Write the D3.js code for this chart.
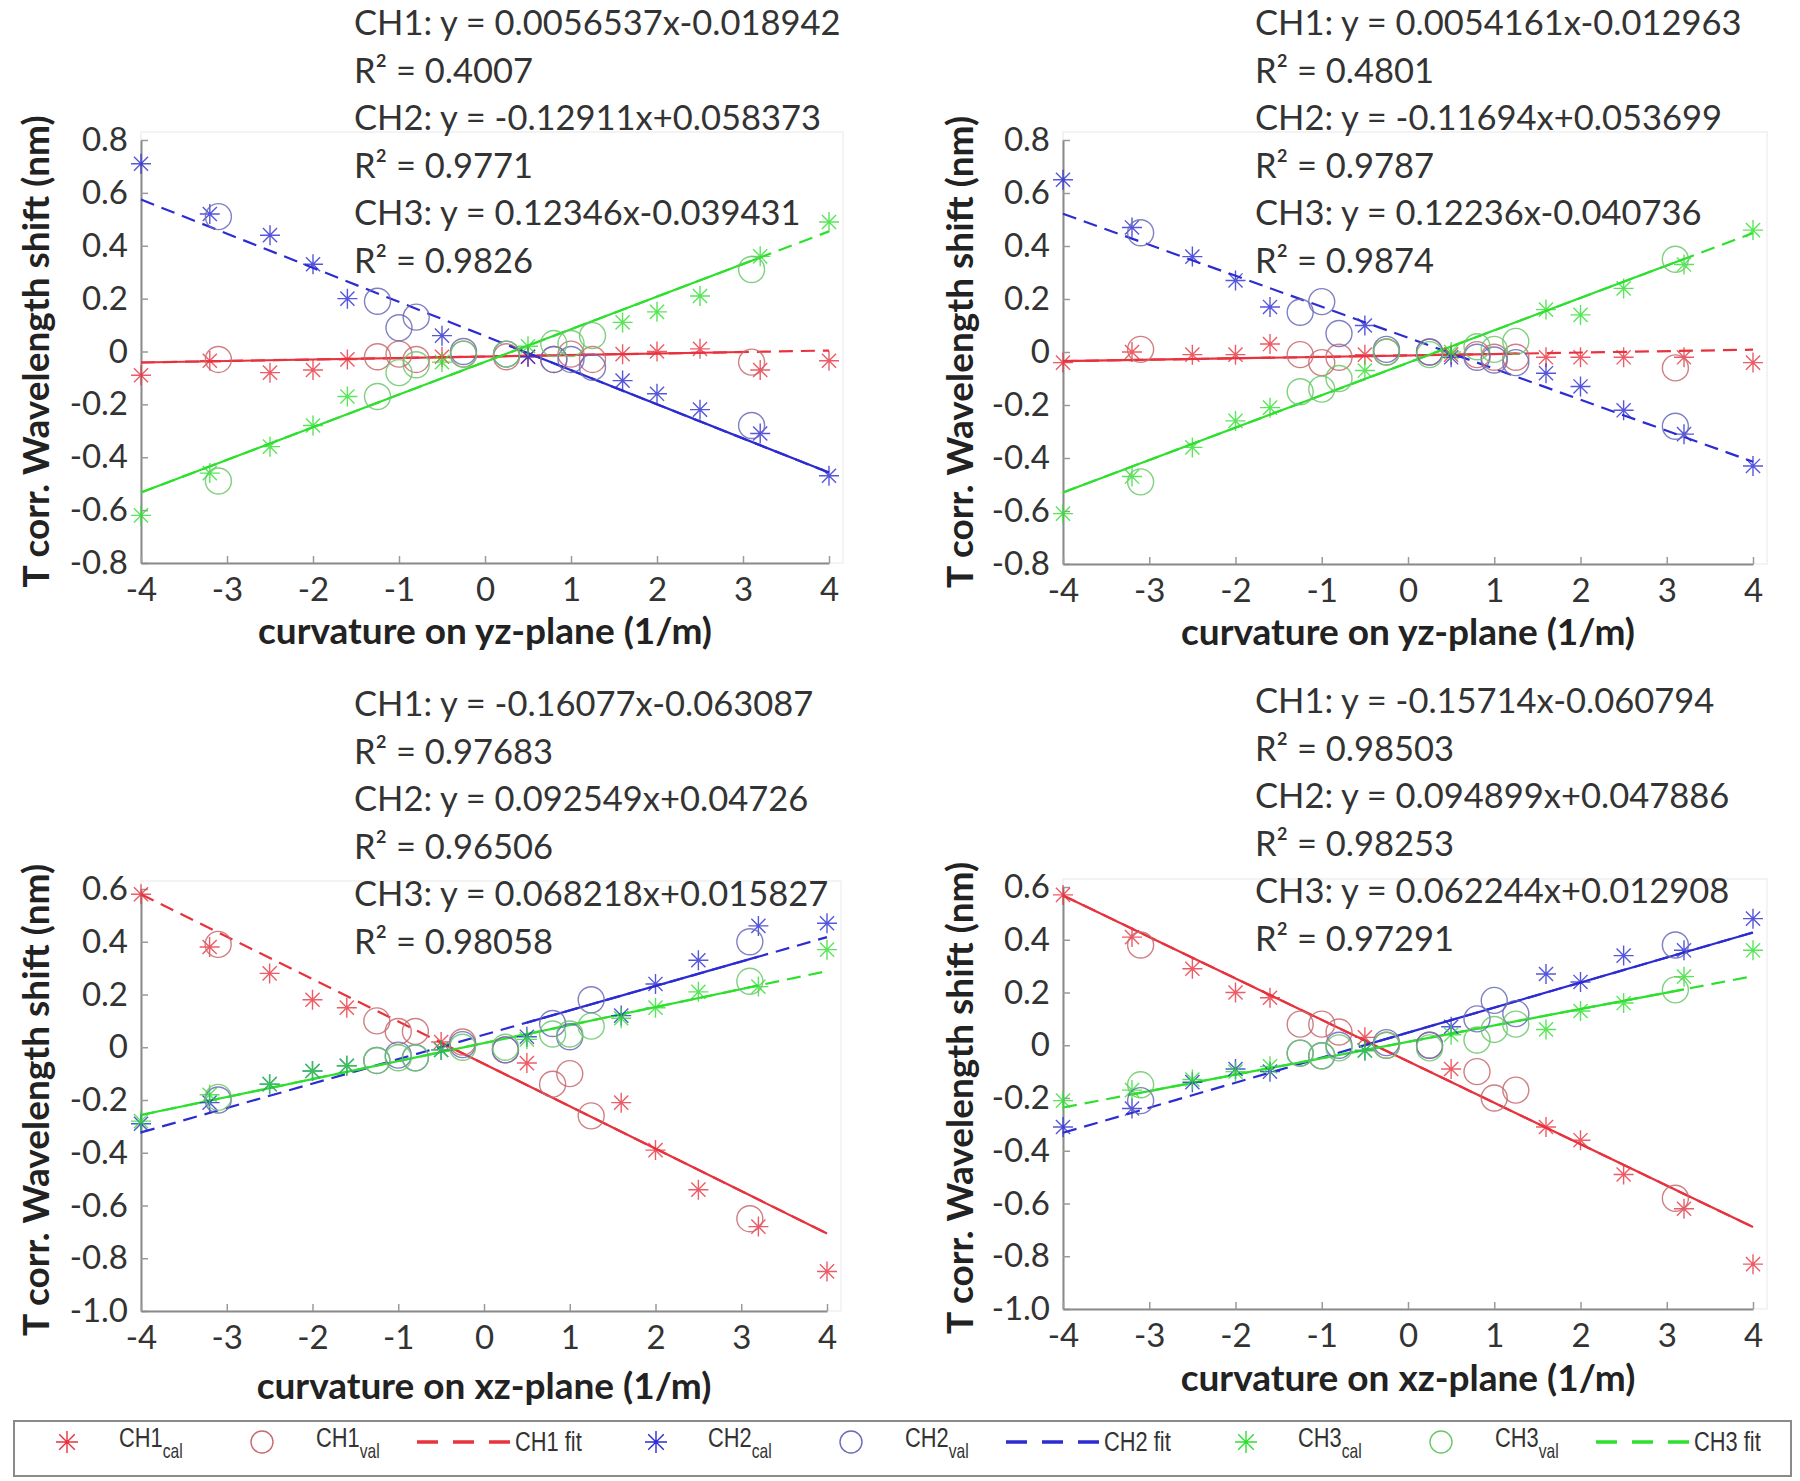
<!DOCTYPE html>
<html><head><meta charset="utf-8">
<script src="https://cdn.jsdelivr.net/npm/d3@7"></script>
<style>body{margin:0;background:#fff}</style>
</head><body>
<svg id="chart" width="1800" height="1481" xmlns="http://www.w3.org/2000/svg"></svg>
<script>
// ---------- shared data ----------
const xTicks = [-4, -3, -2, -1, 0, 1, 2, 3, 4];
const yTicksTop = [0.8, 0.6, 0.4, 0.2, 0, -0.2, -0.4, -0.6, -0.8];
const yTicksBottom = [0.6, 0.4, 0.2, 0, -0.2, -0.4, -0.6, -0.8, -1.0];
const calX = [-4, -3.2, -2.5, -2, -1.6, -0.5, 0.5, 1.6, 2, 2.5, 3.2, 4];
const valX = [-3.1, -1.25, -1.0, -0.8, -0.25, 0.25, 0.8, 1.0, 1.25, 3.1];
const channels = ["CH1", "CH2", "CH3"];
const xTitleYZ = "curvature on yz-plane (1/m)";
const xTitleXZ = "curvature on xz-plane (1/m)";
const yTitle = "T corr. Wavelength shift (nm)";

// ---------- panel A: top-left (yz) ----------
const A_cal1 = [-0.09, -0.035, -0.08, -0.07, -0.03, -0.02, -0.02, -0.01, 0.0, 0.01, -0.07, -0.035];
const A_cal2 = [0.71, 0.52, 0.44, 0.33, 0.20, 0.06, -0.02, -0.11, -0.16, -0.22, -0.31, -0.47];
const A_cal3 = [-0.62, -0.46, -0.36, -0.28, -0.17, -0.04, 0.02, 0.11, 0.15, 0.21, 0.36, 0.49];
const A_val1 = [-0.03, -0.02, -0.01, -0.03, -0.01, -0.02, -0.03, -0.01, -0.03, -0.04];
const A_val2 = [0.51, 0.19, 0.09, 0.13, 0.0, -0.01, -0.03, -0.03, -0.06, -0.28];
const A_val3 = [-0.49, -0.17, -0.08, -0.05, -0.01, -0.01, 0.03, 0.03, 0.06, 0.31];
const A_slope = [0.0056537, -0.12911, 0.12346];
const A_icpt = [-0.018942, 0.058373, -0.039431];
const A_solid = [[-4, 3.0], [0.3, 4], [-4, 3.2]];
const A_text = ["CH1: y = 0.0056537x-0.018942", "R² = 0.4007", "CH2: y = -0.12911x+0.058373", "R² = 0.9771", "CH3: y = 0.12346x-0.039431", "R² = 0.9826"];

// ---------- panel B: top-right (yz) ----------
const B_cal1 = [-0.04, 0.0, -0.01, -0.01, 0.03, -0.01, -0.01, -0.02, -0.02, -0.02, -0.02, -0.04];
const B_cal2 = [0.65, 0.47, 0.36, 0.27, 0.17, 0.10, -0.02, -0.08, -0.13, -0.22, -0.31, -0.43];
const B_cal3 = [-0.61, -0.47, -0.36, -0.26, -0.21, -0.07, 0.0, 0.16, 0.14, 0.24, 0.33, 0.46];
const B_val1 = [0.01, -0.01, -0.04, -0.02, 0.0, 0.0, -0.01, -0.02, -0.02, -0.06];
const B_val2 = [0.45, 0.15, 0.19, 0.07, 0.01, 0.0, -0.02, -0.03, -0.04, -0.28];
const B_val3 = [-0.49, -0.15, -0.14, -0.10, 0.0, -0.01, 0.02, 0.01, 0.04, 0.35];
const B_slope = [0.0054161, -0.11694, 0.12236];
const B_icpt = [-0.012963, 0.053699, -0.040736];
const B_solid = [[-4, 1.3], [0, 0], [-4, 3.2]];
const B_text = ["CH1: y = 0.0054161x-0.012963", "R² = 0.4801", "CH2: y = -0.11694x+0.053699", "R² = 0.9787", "CH3: y = 0.12236x-0.040736", "R² = 0.9874"];

// ---------- panel C: bottom-left (xz) ----------
const C_cal1 = [0.58, 0.38, 0.28, 0.18, 0.15, 0.02, -0.06, -0.21, -0.39, -0.54, -0.68, -0.85];
const C_cal2 = [-0.29, -0.21, -0.14, -0.09, -0.07, -0.01, 0.04, 0.12, 0.24, 0.33, 0.46, 0.47];
const C_cal3 = [-0.28, -0.18, -0.14, -0.09, -0.07, -0.01, 0.03, 0.11, 0.15, 0.21, 0.23, 0.37];
const C_val1 = [0.39, 0.10, 0.06, 0.06, 0.02, -0.01, -0.14, -0.10, -0.26, -0.65];
const C_val2 = [-0.20, -0.05, -0.03, -0.04, 0.01, -0.01, 0.09, 0.04, 0.18, 0.40];
const C_val3 = [-0.19, -0.05, -0.04, -0.04, 0.0, 0.0, 0.05, 0.05, 0.08, 0.25];
const C_slope = [-0.16077, 0.092549, 0.068218];
const C_icpt = [-0.063087, 0.04726, 0.015827];
const C_solid = [[-0.5, 4], [0.5, 3.2], [-4, 3.2]];
const C_text = ["CH1: y = -0.16077x-0.063087", "R² = 0.97683", "CH2: y = 0.092549x+0.04726", "R² = 0.96506", "CH3: y = 0.068218x+0.015827", "R² = 0.98058"];

// ---------- panel D: bottom-right (xz) ----------
const D_cal1 = [0.57, 0.41, 0.29, 0.20, 0.18, 0.03, -0.09, -0.31, -0.36, -0.49, -0.62, -0.83];
const D_cal2 = [-0.31, -0.24, -0.14, -0.09, -0.10, -0.02, 0.07, 0.27, 0.24, 0.34, 0.36, 0.48];
const D_cal3 = [-0.21, -0.17, -0.13, -0.10, -0.08, -0.02, 0.04, 0.06, 0.13, 0.16, 0.26, 0.36];
const D_val1 = [0.38, 0.08, 0.08, 0.05, 0.0, 0.0, -0.10, -0.20, -0.17, -0.58];
const D_val2 = [-0.21, -0.03, -0.04, 0.0, 0.01, 0.0, 0.10, 0.17, 0.12, 0.38];
const D_val3 = [-0.15, -0.03, -0.04, -0.01, 0.0, -0.01, 0.02, 0.06, 0.08, 0.21];
const D_slope = [-0.15714, 0.094899, 0.062244];
const D_icpt = [-0.060794, 0.047886, 0.012908];
const D_solid = [[-4, 4], [-0.5, 4], [-3.2, 3.2]];
const D_text = ["CH1: y = -0.15714x-0.060794", "R² = 0.98503", "CH2: y = 0.094899x+0.047886", "R² = 0.98253", "CH3: y = 0.062244x+0.012908", "R² = 0.97291"];

// ---------- styling / layout ----------
const colors = ["#e8323e", "#2c2cd2", "#2ee02e"];
const valColors = ["#c86a6e", "#6a6ab8", "#6ac86a"];
const FONT = "Lato, 'Open Sans', sans-serif";

const panels = [
  {cal:[A_cal1,A_cal2,A_cal3], val:[A_val1,A_val2,A_val3], slope:A_slope, icpt:A_icpt, solid:A_solid, text:A_text,
   left:141, right:829, top:140, bottom:563, dom:[-0.8,0.8], yt:yTicksTop, xt:xTitleYZ, tx:354, ty:35, yTitleX:36, xTitleDy:81},
  {cal:[B_cal1,B_cal2,B_cal3], val:[B_val1,B_val2,B_val3], slope:B_slope, icpt:B_icpt, solid:B_solid, text:B_text,
   left:1063, right:1753, top:140, bottom:564, dom:[-0.8,0.8], yt:yTicksTop, xt:xTitleYZ, tx:1255, ty:35, yTitleX:960, xTitleDy:81},
  {cal:[C_cal1,C_cal2,C_cal3], val:[C_val1,C_val2,C_val3], slope:C_slope, icpt:C_icpt, solid:C_solid, text:C_text,
   left:141, right:827, top:889, bottom:1311, dom:[-1.0,0.6], yt:yTicksBottom, xt:xTitleXZ, tx:354, ty:716, yTitleX:36, xTitleDy:88},
  {cal:[D_cal1,D_cal2,D_cal3], val:[D_val1,D_val2,D_val3], slope:D_slope, icpt:D_icpt, solid:D_solid, text:D_text,
   left:1063, right:1753, top:887, bottom:1309, dom:[-1.0,0.6], yt:yTicksBottom, xt:xTitleXZ, tx:1255, ty:713, yTitleX:960, xTitleDy:82}
];

const svg = d3.select("#chart");
svg.append("rect").attr("width",1800).attr("height",1481).attr("fill","#fff");

function starPath(r){
  const d = r*Math.SQRT1_2;
  return `M${-r},0L${r},0M0,${-r}L0,${r}M${-d},${-d}L${d},${d}M${-d},${d}L${d},${-d}`;
}
const fmtY = v => v === 0 ? "0" : v.toFixed(1);   // plain hyphen-minus like the original
const fmtX = v => String(v);

panels.forEach(p => {
  const x = d3.scaleLinear().domain([-4,4]).range([p.left,p.right]);
  const y = d3.scaleLinear().domain(p.dom).range([p.bottom,p.top]);
  const g = svg.append("g");

  // faint box
  g.append("rect").attr("x",p.left).attr("y",p.top-8).attr("width",p.right-p.left+14).attr("height",p.bottom-p.top+8)
    .attr("fill","none").attr("stroke","#f0f0f0").attr("stroke-width",1.5);

  // axes
  const yAxis = d3.axisLeft(y).tickValues(p.yt).tickSizeInner(-7).tickSizeOuter(0).tickPadding(13).tickFormat(fmtY);
  const xAxis = d3.axisBottom(x).tickValues(xTicks).tickSizeInner(-7).tickSizeOuter(0).tickPadding(15).tickFormat(fmtX);
  const ya = g.append("g").attr("transform",`translate(${p.left},0)`).call(yAxis);
  const xa = g.append("g").attr("transform",`translate(0,${p.bottom})`).call(xAxis);
  [ya, xa].forEach(a => {
    a.select(".domain").attr("stroke","#8a8a8a").attr("stroke-width",2);
    a.selectAll(".tick line").attr("stroke","#9a9a9a").attr("stroke-width",1.5);
    a.selectAll("text").attr("font-family",FONT).attr("font-size",33).attr("fill","#333");
  });
  xa.selectAll("text").attr("dy","0.7em");

  // fit lines: dashed full range + solid segment
  p.slope.forEach((m,i) => {
    const f = v => m*v + p.icpt[i];
    const line = d3.line().x(d => x(d)).y(d => y(f(d)));
    g.append("path").attr("d", line([-4,4])).attr("fill","none").attr("stroke",colors[i])
      .attr("stroke-width",2.2).attr("stroke-dasharray","14,8");
    const s = p.solid[i];
    if (s[1] > s[0]) {
      g.append("path").attr("d", line(s)).attr("fill","none").attr("stroke",colors[i]).attr("stroke-width",2.2);
    }
  });

  // markers
  p.cal.forEach((arr,i) => {
    g.append("g").selectAll("path").data(arr).join("path")
      .attr("transform",(d,k) => `translate(${x(calX[k])},${y(d)})`)
      .attr("d", starPath(10)).attr("fill","none").attr("stroke",colors[i]).attr("stroke-width",1.4).attr("opacity",0.8);
  });
  p.val.forEach((arr,i) => {
    g.append("g").selectAll("circle").data(arr).join("circle")
      .attr("cx",(d,k) => x(valX[k])).attr("cy",d => y(d)).attr("r",13)
      .attr("fill","none").attr("stroke",valColors[i]).attr("stroke-width",1.4).attr("opacity",0.85);
  });

  // equation text
  g.append("g").selectAll("text").data(p.text).join("text")
    .attr("x",p.tx).attr("y",(d,k) => p.ty + k*47.6)
    .attr("font-family",FONT).attr("font-size",34.5).attr("fill","#333").text(d => d);

  // axis titles
  g.append("text").attr("x",(p.left+p.right)/2).attr("y",p.bottom+p.xTitleDy).attr("text-anchor","middle")
    .attr("font-family",FONT).attr("font-weight","bold").attr("font-size",37).attr("fill","#222").text(p.xt);
  g.append("text").attr("transform",`translate(${p.yTitleX},${(p.top+p.bottom)/2}) rotate(-90)`)
    .attr("text-anchor","middle").attr("dy","0.36em")
    .attr("font-family",FONT).attr("font-weight","bold").attr("font-size",37).attr("fill","#222").text(yTitle);
});

// ---------- legend ----------
const legendItems = [
  {type:"star", c:0, label:"CH1", sub:"cal"},
  {type:"circle", c:0, label:"CH1", sub:"val"},
  {type:"line", c:0, label:"CH1 fit", sub:""},
  {type:"star", c:1, label:"CH2", sub:"cal"},
  {type:"circle", c:1, label:"CH2", sub:"val"},
  {type:"line", c:1, label:"CH2 fit", sub:""},
  {type:"star", c:2, label:"CH3", sub:"cal"},
  {type:"circle", c:2, label:"CH3", sub:"val"},
  {type:"line", c:2, label:"CH3 fit", sub:""}
];
const lg = svg.append("g");
lg.append("rect").attr("x",14).attr("y",1421).attr("width",1777).attr("height",55)
  .attr("fill","#fff").attr("stroke","#8a8a8a").attr("stroke-width",2);
const groupStart = [67, 656, 1246];
const LFONT = "'Liberation Sans', Arial, sans-serif";
const cy = 1442;
function legendText(xPos, yPos, label, sub){
  const t = lg.append("text").attr("transform",`translate(${xPos},${yPos}) scale(0.78,1)`)
    .attr("font-family",LFONT).attr("font-size",28).attr("fill","#333");
  t.append("tspan").text(label);
  if (sub) t.append("tspan").attr("dy",11).attr("font-size",20).text(sub);
}
legendItems.forEach((it,k) => {
  const g0 = groupStart[Math.floor(k/3)];
  const col = colors[it.c];
  if (it.type === "star") {
    lg.append("path").attr("transform",`translate(${g0},${cy})`).attr("d",starPath(11))
      .attr("fill","none").attr("stroke",col).attr("stroke-width",1.4);
    legendText(g0+52, cy+5, it.label, it.sub);
  } else if (it.type === "circle") {
    lg.append("circle").attr("cx",g0+195).attr("cy",cy).attr("r",11)
      .attr("fill","none").attr("stroke",valColors[it.c]).attr("stroke-width",1.4);
    legendText(g0+249, cy+5, it.label, it.sub);
  } else {
    lg.append("line").attr("x1",g0+350).attr("x2",g0+444).attr("y1",cy).attr("y2",cy)
      .attr("stroke",col).attr("stroke-width",3.5).attr("stroke-dasharray","21,15");
    legendText(g0+448, cy+9, it.label, "");
  }
});
</script>
</body></html>
